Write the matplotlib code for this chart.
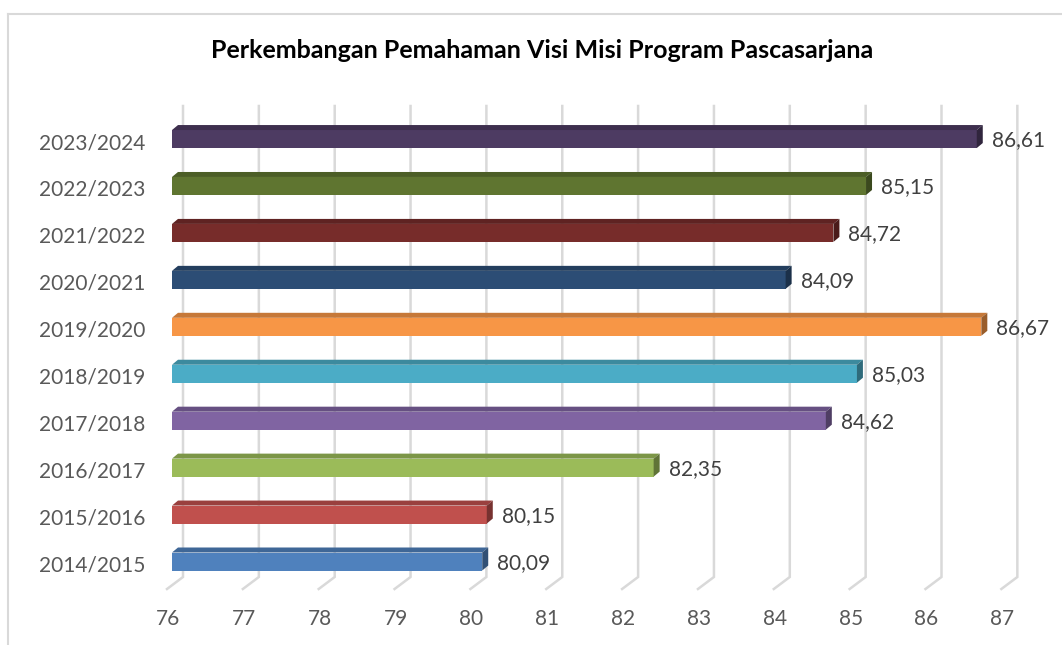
import matplotlib.pyplot as plt
from matplotlib.patches import Polygon, Rectangle
from matplotlib.lines import Line2D
from matplotlib.colors import to_rgb
from matplotlib.transforms import ScaledTranslation

plt.rcParams['font.family'] = ['Lato', 'DejaVu Sans']

years = ['2014/2015', '2015/2016', '2016/2017', '2017/2018', '2018/2019',
         '2019/2020', '2020/2021', '2021/2022', '2022/2023', '2023/2024']
scores = [80.09, 80.15, 82.35, 84.62, 85.03, 86.67, 84.09, 84.72, 85.15, 86.61]
labels = ['80,09', '80,15', '82,35', '84,62', '85,03', '86,67', '84,09', '84,72', '85,15', '86,61']
colors = ['#4F81BD', '#C0504D', '#9BBB59', '#8064A2', '#4BACC6',
          '#F79646', '#2C4D75', '#772C2A', '#5F7530', '#4D3B62']
xticks = list(range(76, 88))
title = 'Perkembangan Pemahaman Visi Misi Program Pascasarjana'

W, H = 1062, 645
fig = plt.figure(figsize=(W / 100, H / 100), dpi=100)
fig.patch.set_facecolor('white')

# axes box in pixels (front plane of the bars)
x0px, x1px = 172, 172 + 75.85 * 11
ytop, ybot = 100, 590
ax = fig.add_axes([x0px / W, (H - ybot) / H, (x1px - x0px) / W, (ybot - ytop) / H])
xmin, xmax = 76, 87
ax.set_xlim(xmin, xmax)
step = 46.94
c0 = 561.5
ax.set_ylim((c0 - ybot) / step, (c0 - ytop) / step)
ppx = (x1px - x0px) / (xmax - xmin)   # pixels per x unit
ppy = step                            # pixels per category

def dx(p):
    return p / ppx

def dy(p):
    return p / ppy

for s in ax.spines.values():
    s.set_visible(False)

# gridlines (back wall + floor)
gtop = (c0 - 106) / step
gbot = (c0 - 577) / step
gfront = (c0 - 589) / step
for v in xticks:
    ax.plot([v + dx(11), v + dx(11), v + dx(-5)], [gtop, gbot, gfront],
            color='#D9D9D9', lw=1.8, solid_joinstyle='miter', zorder=1, clip_on=False)

def shade(c, f):
    r, g, b = to_rgb(c)
    return (r * f, g * f, b * f)

bh = 18 / step
depx, depy = dx(6), dy(5)
for i, (v, c) in enumerate(zip(scores, colors)):
    yb = i - bh / 2
    yt = i + bh / 2
    ax.add_patch(Rectangle((xmin, yb), v - xmin, bh, facecolor=c, edgecolor='none', zorder=3))
    ax.add_patch(Polygon([(xmin, yt), (xmin + depx, yt + depy), (v + depx, yt + depy), (v, yt)],
                         closed=True, facecolor=shade(c, 0.8), edgecolor='none', zorder=3))
    ax.add_patch(Polygon([(v, yb), (v, yt), (v + depx, yt + depy), (v + depx, yb + depy)],
                         closed=True, facecolor=shade(c, 0.62), edgecolor='none', zorder=3))
    ax.text(v + dx(15), i - dy(1.5), labels[i], ha='left', va='center',
            fontsize=15, color='#404040', zorder=4)

ax.set_yticks(range(len(years)))
ax.set_yticklabels(years)
ax.set_xticks(xticks)
ax.tick_params(axis='y', length=0, pad=19.5, labelsize=15, labelcolor='#595959')
ax.tick_params(axis='x', length=0, pad=14, labelsize=15, labelcolor='#595959')
for lab in ax.get_yticklabels():
    lab.set_va('center')
    lab.set_transform(lab.get_transform() + ScaledTranslation(0, -0.04, fig.dpi_scale_trans))
for lab in ax.get_xticklabels():
    lab.set_transform(lab.get_transform() + ScaledTranslation(-0.04, 0, fig.dpi_scale_trans))

fig.text(542 / W, 1 - 50 / H, title, ha='center', va='center',
         fontsize=18, fontweight='bold', color='black')

# chart border
fig.add_artist(Line2D([8 / W, 1.0], [1 - 14 / H, 1 - 14 / H], color='#D9D9D9', lw=1.5))
fig.add_artist(Line2D([8 / W, 8 / W], [0, 1 - 14 / H], color='#D9D9D9', lw=1.5))

fig.savefig('out.png', dpi=100)
